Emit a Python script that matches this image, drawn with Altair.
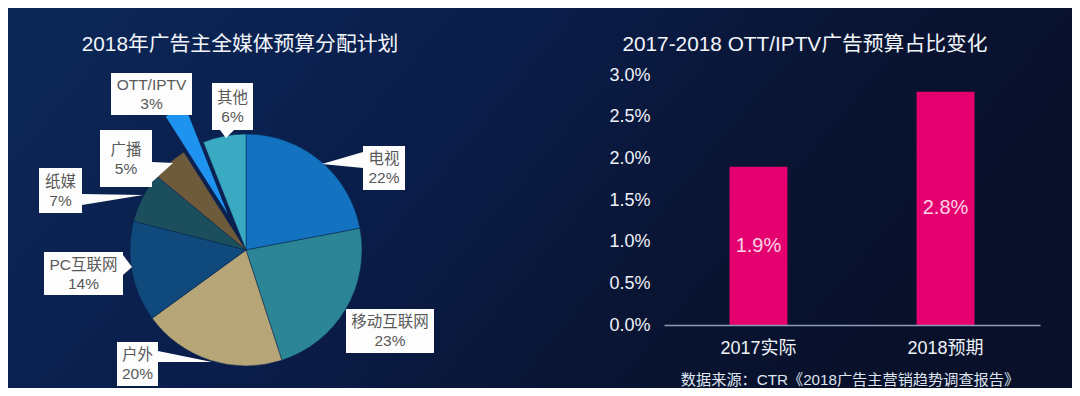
import math
import altair as alt
import pandas as pd

# ---------------- data ----------------
media = ["电视", "移动互联网", "户外", "PC互联网", "纸媒", "广播", "OTT/IPTV", "其他"]
media_share = [22, 23, 20, 14, 7, 5, 3, 6]

periods = ["2017实际", "2018预期"]
ott_share = [0.019, 0.028]
y_ticks = [0.0, 0.005, 0.010, 0.015, 0.020, 0.025, 0.030]

title_left = "2018年广告主全媒体预算分配计划"
title_right = "2017-2018 OTT/IPTV广告预算占比变化"
source_note = "数据来源：CTR《2018广告主营销趋势调查报告》"

# ---------------- style / layout ----------------
slice_colors = ["#1373c0", "#2c8595", "#b5a577", "#104a7c",
                "#1c4f5d", "#6e5b3c", "#1f93f0", "#3aa9c2"]
FONT = "Liberation Sans, Noto Sans CJK SC, sans-serif"
W, H = 1064, 380
OFF = 8  # page margin: reference pixel -> chart pixel
LINE_H = 19


def c(v):
    return v - OFF


PIE_CX, PIE_CY, PIE_R = c(246), c(250), 116
EXPLODE = 40  # OTT/IPTV slice pulled out

# callout boxes (reference pixel coords): box (x0,y0,x1,y1), pointer triangle
CALLOUTS = {
    "电视": dict(box=(363, 146, 405, 190), ptr=[(363, 152), (322, 164), (363, 168)]),
    "移动互联网": dict(box=(346, 309, 434, 353), ptr=None),
    "户外": dict(box=(117, 342, 158, 386), ptr=[(158, 351), (212, 362), (158, 362)]),
    "PC互联网": dict(box=(44, 252, 123, 295), ptr=[(123, 255), (132, 267), (123, 275)]),
    "纸媒": dict(box=(39, 168, 82, 213), ptr=[(82, 194), (143, 195), (82, 205)]),
    "广播": dict(box=(100, 130, 152, 187), ptr=[(152, 162), (173, 163), (152, 182)]),
    "OTT/IPTV": dict(box=(111, 73, 192, 115), ptr=None),
    "其他": dict(box=(212, 83, 253, 130), ptr=[(220, 130), (226, 138), (234, 130)]),
}

# ---------------- tables ----------------
pie_df = pd.DataFrame({"cat": media, "share": media_share, "idx": list(range(len(media)))})

rows = []
for cat, val in zip(media, media_share):
    lay = CALLOUTS[cat]
    x0, y0, x1, y1 = [c(v) for v in lay["box"]]
    path = f"M{x0} {y0}L{x1} {y0}L{x1} {y1}L{x0} {y1}Z"
    if lay["ptr"]:
        (ax, ay), (bx, by), (qx, qy) = [(c(px), c(py)) for px, py in lay["ptr"]]
        path += f"M{ax} {ay}L{bx} {by}L{qx} {qy}Z"
    rows.append(dict(cat=cat, path=path, tx=(x0 + x1) / 2,
                     ty=(y0 + y1) / 2 - LINE_H / 2 + 0.5,
                     label=f"{cat}\n{val}%"))
callout_df = pd.DataFrame(rows)

bar_df = pd.DataFrame({"period": periods, "share": ott_share})
one = pd.DataFrame({"a": [0]})

# OTT slice explode direction from its mid angle
i_ott = media.index("OTT/IPTV")
mid = (sum(media_share[:i_ott]) + media_share[i_ott] / 2) / sum(media_share) * 2 * math.pi
ex_dx, ex_dy = EXPLODE * math.sin(mid), -EXPLODE * math.cos(mid)

# ---------------- background ----------------
grad = alt.Gradient(
    gradient="linear",
    stops=[alt.GradientStop(color="#0c2858", offset=0),
           alt.GradientStop(color="#0a1d4a", offset=0.45),
           alt.GradientStop(color="#0a1534", offset=0.75),
           alt.GradientStop(color="#08102a", offset=1)],
    x1=0, x2=1, y1=0, y2=0.3,
)
bg = alt.Chart(one).mark_rect(fill=grad).encode(
    x=alt.value(0), x2=alt.value(W), y=alt.value(0), y2=alt.value(H))

# ---------------- pie ----------------
is_ott = alt.datum.cat == "OTT/IPTV"
pie_base = alt.Chart(pie_df).encode(
    theta=alt.Theta("share:Q", stack=True),
    order=alt.Order("idx:Q"),
    color=alt.Color("cat:N", scale=alt.Scale(domain=media, range=slice_colors), legend=None),
)
pie_main = pie_base.mark_arc(radius=PIE_R, stroke="#0b2250", strokeWidth=0.5).encode(
    x=alt.value(PIE_CX), y=alt.value(PIE_CY),
    opacity=alt.condition(is_ott, alt.value(0), alt.value(1)),
)
pie_ott = pie_base.mark_arc(radius=PIE_R).encode(
    x=alt.value(PIE_CX + ex_dx), y=alt.value(PIE_CY + ex_dy),
    opacity=alt.condition(is_ott, alt.value(1), alt.value(0)),
)

callout_shapes = alt.Chart(callout_df).mark_point(
    filled=True, color="#fdfdfd", opacity=1, strokeWidth=0
).encode(
    x=alt.value(0), y=alt.value(0),
    shape=alt.Shape("path:N", scale=None, legend=None),
    size=alt.value(4),
)
callout_text = alt.Chart(callout_df).mark_text(
    font=FONT, fontSize=15.5, color="#595959", lineBreak="\n", lineHeight=LINE_H, baseline="middle"
).encode(
    x=alt.X("tx:Q", scale=None, axis=None),
    y=alt.Y("ty:Q", scale=None, axis=None),
    text="label:N",
)

# ---------------- titles ----------------
def label(txt, x, y, size, color="#f2f5fa"):
    return alt.Chart(one).mark_text(font=FONT, fontSize=size, color=color, baseline="middle").encode(
        x=alt.value(x), y=alt.value(y), text=alt.value(txt))


t_left = label(title_left, c(240), c(45), 20.8)
t_right = label(title_right, c(805), c(45), 20.8)
t_src = label(source_note, c(850), c(380), 15.2, "#dfe6f0")

# ---------------- bars ----------------
xsc = alt.Scale(domain=periods, range=[c(664), c(1040)], paddingInner=0.69, paddingOuter=0.35)
ysc = alt.Scale(domain=[0, 0.03], range=[c(325), c(75)])
x_axis = alt.Axis(title=None, orient="bottom", offset=-(H - c(325)), labelAngle=0,
                  labelFont=FONT, labelFontSize=18, labelColor="#eef2f8", labelPadding=14,
                  ticks=False, tickSize=0, domainColor="#8f9cb6", domainWidth=1.5,
                  grid=False, zindex=2)
y_axis = alt.Axis(title=None, orient="left", offset=-c(664), values=y_ticks, format=".1%",
                  labelFont=FONT, labelFontSize=18, labelColor="#eef2f8", labelPadding=14,
                  ticks=False, tickSize=0, domain=False, grid=False, zindex=2)

bar_base = alt.Chart(bar_df).encode(x=alt.X("period:N", sort=periods, scale=xsc, axis=x_axis))
bars = bar_base.mark_bar(color="#e4006e").encode(
    y=alt.Y("share:Q", scale=ysc, axis=y_axis))
bar_labels = bar_base.transform_calculate(
    mid="datum.share / 2", txt="format(datum.share, '.1%')"
).mark_text(font=FONT, fontSize=20, color="#fbd3e7", baseline="middle").encode(
    y=alt.Y("mid:Q", scale=ysc, axis=y_axis), text="txt:N")
bar_layer = alt.layer(bars, bar_labels)

chart = alt.layer(
    bg, pie_main, pie_ott, callout_shapes, callout_text, t_left, t_right, t_src, bar_layer
).resolve_scale(x="independent", y="independent").properties(
    width=W, height=H, autosize=alt.AutoSizeParams(type="none"), padding=0,
    background="#0a1a44",
).configure_view(stroke=None)

chart.save("out.html", embed_options={"renderer": "svg", "actions": False})
